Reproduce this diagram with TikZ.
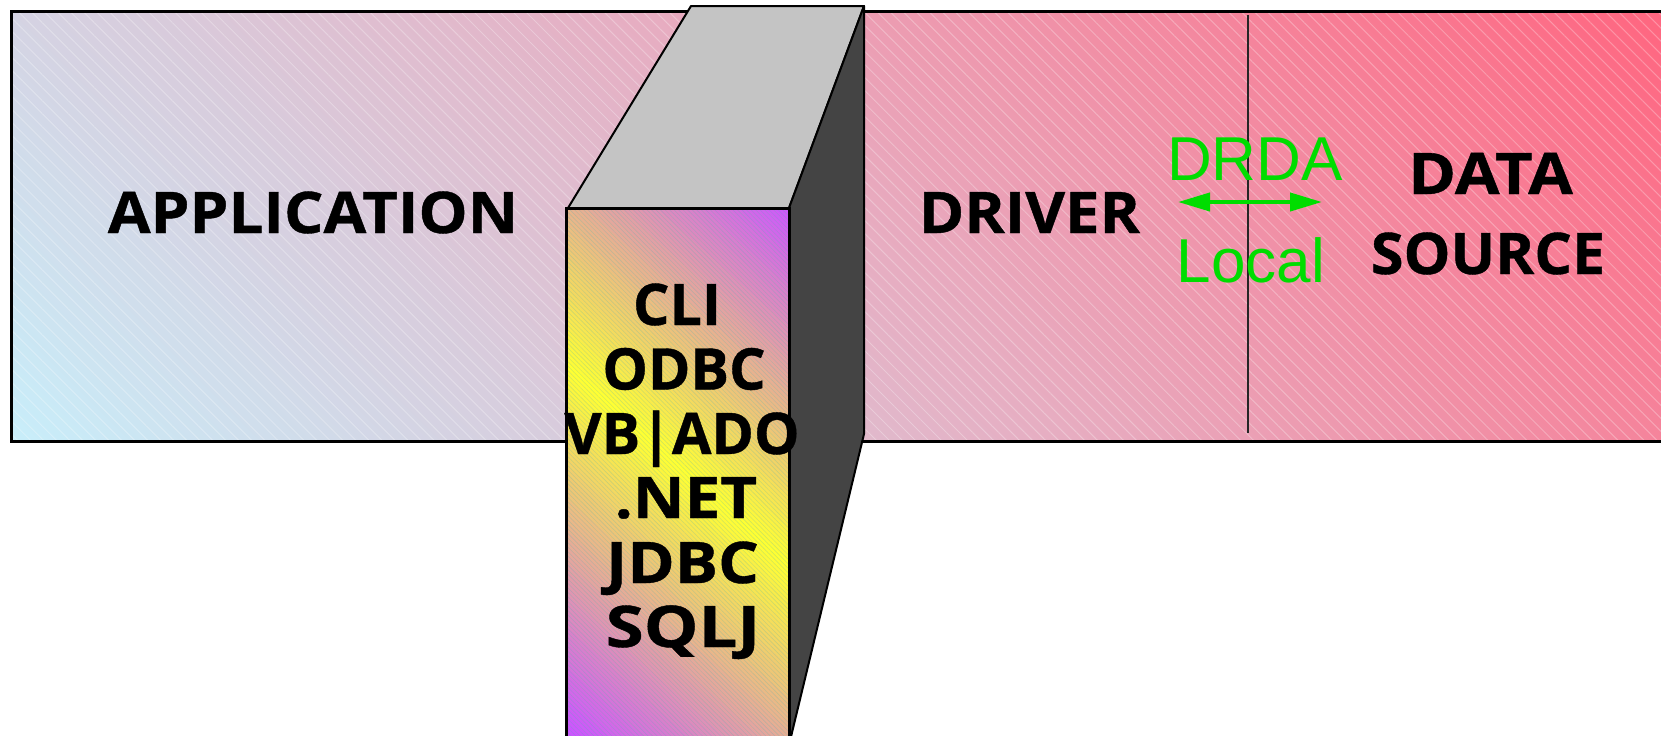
\documentclass[tikz,border=0pt]{standalone}
\usepackage{fontspec}
\newfontfamily\labfont{Open Sans}[BoldFeatures={FakeBold=0.7}]
\newfontfamily\grnfont{Liberation Sans}
\usetikzlibrary{patterns.meta,arrows.meta}
\definecolor{bgcyan}{HTML}{C8EEFA}
\definecolor{bgpink}{HTML}{E6AEC2}
\definecolor{bgred}{HTML}{FF6680}
\definecolor{fpurple}{HTML}{CC55FF}
\definecolor{fyellow}{HTML}{FFFF33}
\definecolor{topgray}{HTML}{C4C4C4}
\definecolor{sidegray}{HTML}{444444}
\definecolor{drdagreen}{HTML}{00DD00}
\newcommand{\wide}[2]{\scalebox{#1}[1]{#2}}
\begin{document}
\begin{tikzpicture}[x=0.5pt,y=-0.5pt,
  lab/.style={font=\labfont\bfseries\fontsize{28.7}{30}\selectfont, anchor=base, inner sep=0pt},
  grn/.style={font=\grnfont\fontsize{31}{32}\selectfont, text=drdagreen, anchor=base, inner sep=0pt},
  outline/.style={draw=black, line width=1.5pt},
  thinline/.style={draw=black, line width=1pt, line join=round}]
\useasboundingbox (0,0) rectangle (1661,735);

% ---- big band with diagonal gradient ----
\begin{scope}
  \clip (11,11) rectangle (1700,441);
  \foreach \v in {-470,-460,...,1680} {
    \pgfmathtruncatemacro\p{max(0,min(200,round(((\v+5+430)/2080)*200)))}
    \ifnum\p<100
      \colorlet{stripc}{bgpink!\p!bgcyan}
    \else
      \pgfmathtruncatemacro\q{\p-100}
      \colorlet{stripc}{bgred!\q!bgpink}
    \fi
    \fill[stripc] (\v,0) -- ({\v+11},0) -- ({\v+11+460},460) -- ({\v+460},460) -- cycle;
  }
  \fill[pattern={Lines[angle=-45,distance=4.6pt,line width=0.5pt]}, pattern color=white, opacity=0.28] (0,0) rectangle (1700,460);
\end{scope}
\draw[outline] (11,11) rectangle (1700,441);

% ---- divider and labels ----
\coordinate (vt) at (1248,15);
\coordinate (vb) at (1248,433);
\draw[line width=0.8pt, black!85] (vt) -- (vb);

\node[lab] (app) at (313,233) {\wide{1.08}{APPLICATION}};
\node[lab] (drv) at (1029.5,233) {\wide{1.07}{DRIVER}};
\node[lab] (data) at (1490.5,194) {\wide{1.13}{DATA}};
\node[lab] (src) at (1488,274) {\wide{1.03}{SOURCE}};
\node[grn] (drda) at (1255,180) {DRDA};
\node[grn] (local) at (1251,282) {Local};
\coordinate (aL) at (1178,202);
\coordinate (aR) at (1322,202);
\draw[drdagreen, line width=2pt, {Triangle[length=16pt,width=9pt]}-{Triangle[length=16pt,width=9pt]}] (aL) -- (aR);

% ---- 3D block ----
\filldraw[fill=topgray, thinline] (568,208) -- (691,6) -- (864,6) -- (789,208) -- cycle;
\filldraw[fill=sidegray, thinline] (789,208) -- (864,6) -- (864,434) -- (789,745) -- cycle;
\begin{scope}
  \clip (566,208) rectangle (789,745);
  \foreach \t in {-340,-334,...,340} {
    \pgfmathtruncatemacro\p{max(0,round((1-abs(\t+3)/268)*100))}
    \colorlet{stripf}{fyellow!\p!fpurple}
    \fill[stripf] ({677.5-0.669*\t-445.8},{466+0.743*\t-401.4}) --
                  ({677.5-0.669*\t+445.8},{466+0.743*\t+401.4}) --
                  ({677.5-0.669*(\t+7)+445.8},{466+0.743*(\t+7)+401.4}) --
                  ({677.5-0.669*(\t+7)-445.8},{466+0.743*(\t+7)-401.4}) -- cycle;
  }
  \fill[pattern={Lines[angle=-45,distance=1.6pt,line width=0.3pt]}, pattern color=cyan!40!gray, opacity=0.25] (560,200) rectangle (800,750);
\end{scope}
\draw[outline] (566,745) -- (566,208) -- (789,208) -- (789,745);

\node[lab] (cli) at (677,325) {CLI};
\node[lab] (odbc) at (684,389.5) {ODBC};
\node[lab] (vbado) at (682,454) {VB|ADO};
\node[lab] (net) at (686,518) {\wide{1.11}{.NET}};
\node[lab] (jdbc) at (682.5,583) {\wide{1.12}{JDBC}};
\node[lab] (sqlj) at (683,647) {\wide{1.2}{SQLJ}};
\end{tikzpicture}
\end{document}
